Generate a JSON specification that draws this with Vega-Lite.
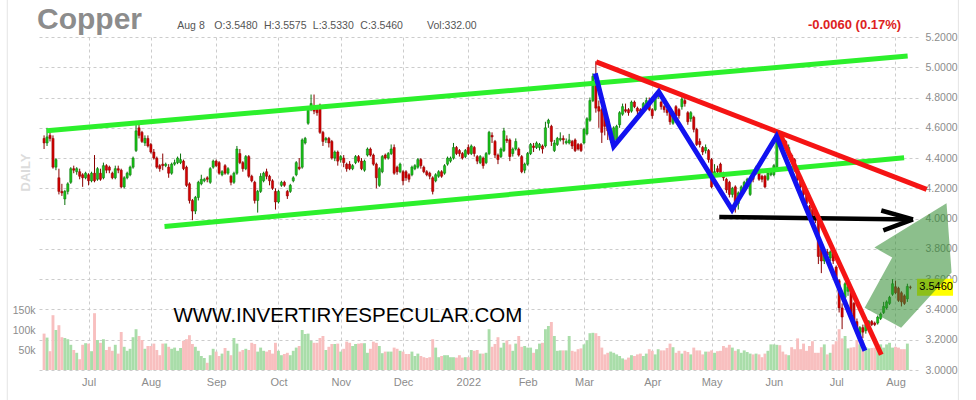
{
  "$schema": "https://vega.github.io/schema/vega-lite/v6.json",
  "width": 881,
  "height": 333,
  "autosize": "none",
  "padding": {"left": 37, "top": 37, "right": 58, "bottom": 30},
  "background": "white",
  "config": {
    "view": {"stroke": null},
    "font": "Liberation Sans",
    "axisRight": {"tickCount": 12, "format": ".4f", "labelOverlap": false, "labelFlush": false, "labelFontSize": 10.5, "labelColor": "#8c8c8c", "labelPadding": 7, "ticks": false, "tickSize": 0, "domain": false, "grid": true, "gridColor": "#cccccc", "gridDash": [3, 3], "title": null}
  },
  "title": {"text": "Copper", "anchor": "start", "frame": "group", "fontSize": 30, "fontWeight": "bold", "color": "#8c8c8c", "offset": 2, "dy": 62, "baseline": "alphabetic"},
  "datasets": {
    "copper": [
      {"d":"2021-06-10","o":4.53,"h":4.55,"l":4.46,"c":4.50,"v":91000},
      {"d":"2021-06-11","o":4.50,"h":4.60,"l":4.48,"c":4.54,"v":81000},
      {"d":"2021-06-14","o":4.55,"h":4.57,"l":4.51,"c":4.53,"v":47000},
      {"d":"2021-06-15","o":4.53,"h":4.55,"l":4.33,"c":4.34,"v":137000},
      {"d":"2021-06-16","o":4.34,"h":4.40,"l":4.32,"c":4.39,"v":100000},
      {"d":"2021-06-17","o":4.27,"h":4.33,"l":4.16,"c":4.18,"v":112000},
      {"d":"2021-06-18","o":4.18,"h":4.23,"l":4.15,"c":4.17,"v":82000},
      {"d":"2021-06-21","o":4.13,"h":4.19,"l":4.09,"c":4.18,"v":80000},
      {"d":"2021-06-22","o":4.18,"h":4.24,"l":4.16,"c":4.23,"v":77000},
      {"d":"2021-06-23","o":4.24,"h":4.34,"l":4.23,"c":4.33,"v":63000},
      {"d":"2021-06-24","o":4.33,"h":4.35,"l":4.30,"c":4.32,"v":50000},
      {"d":"2021-06-25","o":4.31,"h":4.34,"l":4.29,"c":4.33,"v":43000},
      {"d":"2021-06-28","o":4.31,"h":4.33,"l":4.26,"c":4.28,"v":27000},
      {"d":"2021-06-29","o":4.29,"h":4.30,"l":4.21,"c":4.27,"v":63000},
      {"d":"2021-06-30","o":4.27,"h":4.31,"l":4.26,"c":4.30,"v":67000},
      {"d":"2021-07-01","o":4.29,"h":4.30,"l":4.22,"c":4.25,"v":66000},
      {"d":"2021-07-02","o":4.25,"h":4.31,"l":4.24,"c":4.30,"v":47000},
      {"d":"2021-07-06","o":4.30,"h":4.42,"l":4.24,"c":4.25,"v":142000},
      {"d":"2021-07-07","o":4.26,"h":4.34,"l":4.25,"c":4.33,"v":75000},
      {"d":"2021-07-08","o":4.30,"h":4.33,"l":4.25,"c":4.26,"v":68000},
      {"d":"2021-07-09","o":4.27,"h":4.37,"l":4.26,"c":4.35,"v":77000},
      {"d":"2021-07-12","o":4.35,"h":4.36,"l":4.30,"c":4.32,"v":50000},
      {"d":"2021-07-13","o":4.34,"h":4.35,"l":4.30,"c":4.32,"v":58000},
      {"d":"2021-07-14","o":4.30,"h":4.31,"l":4.26,"c":4.27,"v":48000},
      {"d":"2021-07-15","o":4.27,"h":4.35,"l":4.26,"c":4.33,"v":63000},
      {"d":"2021-07-16","o":4.33,"h":4.35,"l":4.30,"c":4.32,"v":41000},
      {"d":"2021-07-19","o":4.32,"h":4.33,"l":4.20,"c":4.21,"v":95000},
      {"d":"2021-07-20","o":4.21,"h":4.28,"l":4.20,"c":4.27,"v":58000},
      {"d":"2021-07-21","o":4.27,"h":4.31,"l":4.26,"c":4.30,"v":48000},
      {"d":"2021-07-22","o":4.29,"h":4.35,"l":4.28,"c":4.34,"v":53000},
      {"d":"2021-07-23","o":4.34,"h":4.41,"l":4.33,"c":4.40,"v":82000},
      {"d":"2021-07-26","o":4.45,"h":4.62,"l":4.44,"c":4.58,"v":102000},
      {"d":"2021-07-27","o":4.60,"h":4.62,"l":4.53,"c":4.55,"v":85000},
      {"d":"2021-07-28","o":4.57,"h":4.58,"l":4.50,"c":4.51,"v":75000},
      {"d":"2021-07-29","o":4.50,"h":4.55,"l":4.48,"c":4.53,"v":53000},
      {"d":"2021-07-30","o":4.53,"h":4.55,"l":4.47,"c":4.48,"v":60000},
      {"d":"2021-08-02","o":4.49,"h":4.50,"l":4.43,"c":4.44,"v":60000},
      {"d":"2021-08-03","o":4.44,"h":4.46,"l":4.39,"c":4.40,"v":66000},
      {"d":"2021-08-04","o":4.40,"h":4.41,"l":4.33,"c":4.34,"v":50000},
      {"d":"2021-08-05","o":4.35,"h":4.36,"l":4.31,"c":4.33,"v":37000},
      {"d":"2021-08-06","o":4.36,"h":4.43,"l":4.32,"c":4.35,"v":66000},
      {"d":"2021-08-09","o":4.35,"h":4.37,"l":4.34,"c":4.36,"v":66000},
      {"d":"2021-08-10","o":4.34,"h":4.36,"l":4.27,"c":4.30,"v":58000},
      {"d":"2021-08-11","o":4.30,"h":4.37,"l":4.29,"c":4.36,"v":53000},
      {"d":"2021-08-12","o":4.36,"h":4.39,"l":4.35,"c":4.37,"v":56000},
      {"d":"2021-08-13","o":4.37,"h":4.41,"l":4.36,"c":4.40,"v":48000},
      {"d":"2021-08-16","o":4.37,"h":4.43,"l":4.36,"c":4.39,"v":55000},
      {"d":"2021-08-17","o":4.38,"h":4.39,"l":4.32,"c":4.33,"v":73000},
      {"d":"2021-08-18","o":4.34,"h":4.35,"l":4.21,"c":4.22,"v":77000},
      {"d":"2021-08-19","o":4.23,"h":4.24,"l":4.10,"c":4.12,"v":87000},
      {"d":"2021-08-20","o":4.12,"h":4.13,"l":3.99,"c":4.05,"v":65000},
      {"d":"2021-08-23","o":4.05,"h":4.15,"l":4.03,"c":4.14,"v":58000},
      {"d":"2021-08-24","o":4.14,"h":4.25,"l":4.12,"c":4.24,"v":48000},
      {"d":"2021-08-25","o":4.23,"h":4.29,"l":4.22,"c":4.26,"v":35000},
      {"d":"2021-08-26","o":4.25,"h":4.27,"l":4.24,"c":4.26,"v":30000},
      {"d":"2021-08-27","o":4.27,"h":4.28,"l":4.24,"c":4.26,"v":18000},
      {"d":"2021-08-30","o":4.24,"h":4.34,"l":4.23,"c":4.33,"v":37000},
      {"d":"2021-08-31","o":4.34,"h":4.39,"l":4.33,"c":4.38,"v":53000},
      {"d":"2021-09-01","o":4.38,"h":4.39,"l":4.34,"c":4.35,"v":46000},
      {"d":"2021-09-02","o":4.37,"h":4.38,"l":4.29,"c":4.30,"v":35000},
      {"d":"2021-09-03","o":4.29,"h":4.32,"l":4.28,"c":4.31,"v":41000},
      {"d":"2021-09-07","o":4.35,"h":4.36,"l":4.29,"c":4.30,"v":55000},
      {"d":"2021-09-08","o":4.30,"h":4.34,"l":4.29,"c":4.33,"v":48000},
      {"d":"2021-09-09","o":4.28,"h":4.29,"l":4.22,"c":4.24,"v":37000},
      {"d":"2021-09-10","o":4.24,"h":4.31,"l":4.23,"c":4.30,"v":80000},
      {"d":"2021-09-13","o":4.30,"h":4.48,"l":4.29,"c":4.46,"v":66000},
      {"d":"2021-09-14","o":4.43,"h":4.46,"l":4.36,"c":4.37,"v":46000},
      {"d":"2021-09-15","o":4.37,"h":4.38,"l":4.31,"c":4.33,"v":50000},
      {"d":"2021-09-16","o":4.33,"h":4.42,"l":4.32,"c":4.41,"v":53000},
      {"d":"2021-09-17","o":4.41,"h":4.42,"l":4.27,"c":4.28,"v":50000},
      {"d":"2021-09-20","o":4.28,"h":4.29,"l":4.24,"c":4.25,"v":68000},
      {"d":"2021-09-21","o":4.24,"h":4.25,"l":4.10,"c":4.12,"v":65000},
      {"d":"2021-09-22","o":4.12,"h":4.19,"l":4.04,"c":4.18,"v":46000},
      {"d":"2021-09-23","o":4.18,"h":4.30,"l":4.17,"c":4.28,"v":56000},
      {"d":"2021-09-24","o":4.25,"h":4.31,"l":4.24,"c":4.30,"v":48000},
      {"d":"2021-09-27","o":4.31,"h":4.33,"l":4.26,"c":4.28,"v":46000},
      {"d":"2021-09-28","o":4.28,"h":4.29,"l":4.22,"c":4.25,"v":50000},
      {"d":"2021-09-29","o":4.25,"h":4.26,"l":4.19,"c":4.20,"v":41000},
      {"d":"2021-09-30","o":4.18,"h":4.20,"l":4.06,"c":4.11,"v":68000},
      {"d":"2021-10-01","o":4.11,"h":4.19,"l":4.10,"c":4.18,"v":48000},
      {"d":"2021-10-04","o":4.22,"h":4.25,"l":4.21,"c":4.24,"v":37000},
      {"d":"2021-10-05","o":4.24,"h":4.25,"l":4.21,"c":4.22,"v":40000},
      {"d":"2021-10-06","o":4.18,"h":4.19,"l":4.13,"c":4.15,"v":43000},
      {"d":"2021-10-07","o":4.18,"h":4.23,"l":4.17,"c":4.22,"v":37000},
      {"d":"2021-10-08","o":4.25,"h":4.28,"l":4.24,"c":4.27,"v":48000},
      {"d":"2021-10-11","o":4.29,"h":4.38,"l":4.28,"c":4.37,"v":56000},
      {"d":"2021-10-12","o":4.34,"h":4.40,"l":4.32,"c":4.33,"v":60000},
      {"d":"2021-10-13","o":4.34,"h":4.53,"l":4.33,"c":4.52,"v":100000},
      {"d":"2021-10-14","o":4.50,"h":4.54,"l":4.49,"c":4.53,"v":90000},
      {"d":"2021-10-15","o":4.63,"h":4.73,"l":4.62,"c":4.72,"v":91000},
      {"d":"2021-10-18","o":4.72,"h":4.82,"l":4.71,"c":4.76,"v":73000},
      {"d":"2021-10-19","o":4.74,"h":4.82,"l":4.69,"c":4.71,"v":68000},
      {"d":"2021-10-20","o":4.72,"h":4.74,"l":4.68,"c":4.70,"v":68000},
      {"d":"2021-10-21","o":4.75,"h":4.76,"l":4.56,"c":4.57,"v":80000},
      {"d":"2021-10-22","o":4.57,"h":4.58,"l":4.48,"c":4.51,"v":85000},
      {"d":"2021-10-25","o":4.52,"h":4.54,"l":4.50,"c":4.53,"v":50000},
      {"d":"2021-10-26","o":4.53,"h":4.54,"l":4.47,"c":4.50,"v":58000},
      {"d":"2021-10-27","o":4.51,"h":4.52,"l":4.39,"c":4.40,"v":65000},
      {"d":"2021-10-28","o":4.40,"h":4.45,"l":4.38,"c":4.44,"v":65000},
      {"d":"2021-10-29","o":4.44,"h":4.45,"l":4.35,"c":4.38,"v":66000},
      {"d":"2021-11-01","o":4.39,"h":4.42,"l":4.37,"c":4.41,"v":46000},
      {"d":"2021-11-02","o":4.40,"h":4.42,"l":4.34,"c":4.37,"v":53000},
      {"d":"2021-11-03","o":4.36,"h":4.37,"l":4.31,"c":4.33,"v":71000},
      {"d":"2021-11-04","o":4.36,"h":4.38,"l":4.32,"c":4.33,"v":68000},
      {"d":"2021-11-05","o":4.33,"h":4.36,"l":4.32,"c":4.35,"v":60000},
      {"d":"2021-11-08","o":4.37,"h":4.42,"l":4.36,"c":4.41,"v":65000},
      {"d":"2021-11-09","o":4.41,"h":4.42,"l":4.37,"c":4.38,"v":66000},
      {"d":"2021-11-10","o":4.38,"h":4.40,"l":4.32,"c":4.33,"v":67000},
      {"d":"2021-11-11","o":4.32,"h":4.39,"l":4.31,"c":4.38,"v":67000},
      {"d":"2021-11-12","o":4.42,"h":4.47,"l":4.41,"c":4.46,"v":43000},
      {"d":"2021-11-15","o":4.46,"h":4.47,"l":4.41,"c":4.42,"v":53000},
      {"d":"2021-11-16","o":4.42,"h":4.43,"l":4.35,"c":4.36,"v":71000},
      {"d":"2021-11-17","o":4.36,"h":4.37,"l":4.20,"c":4.27,"v":68000},
      {"d":"2021-11-18","o":4.22,"h":4.34,"l":4.21,"c":4.33,"v":60000},
      {"d":"2021-11-19","o":4.31,"h":4.42,"l":4.30,"c":4.41,"v":42000},
      {"d":"2021-11-22","o":4.42,"h":4.43,"l":4.39,"c":4.40,"v":46000},
      {"d":"2021-11-23","o":4.40,"h":4.44,"l":4.39,"c":4.43,"v":46000},
      {"d":"2021-11-24","o":4.43,"h":4.49,"l":4.42,"c":4.46,"v":46000},
      {"d":"2021-11-26","o":4.47,"h":4.49,"l":4.29,"c":4.30,"v":56000},
      {"d":"2021-11-29","o":4.34,"h":4.35,"l":4.29,"c":4.31,"v":53000},
      {"d":"2021-11-30","o":4.31,"h":4.37,"l":4.30,"c":4.36,"v":48000},
      {"d":"2021-12-01","o":4.31,"h":4.32,"l":4.22,"c":4.25,"v":46000},
      {"d":"2021-12-02","o":4.31,"h":4.32,"l":4.25,"c":4.27,"v":40000},
      {"d":"2021-12-03","o":4.29,"h":4.30,"l":4.24,"c":4.26,"v":40000},
      {"d":"2021-12-06","o":4.29,"h":4.35,"l":4.28,"c":4.34,"v":46000},
      {"d":"2021-12-07","o":4.33,"h":4.36,"l":4.32,"c":4.35,"v":35000},
      {"d":"2021-12-08","o":4.34,"h":4.40,"l":4.33,"c":4.39,"v":41000},
      {"d":"2021-12-09","o":4.39,"h":4.40,"l":4.33,"c":4.35,"v":35000},
      {"d":"2021-12-10","o":4.34,"h":4.35,"l":4.30,"c":4.31,"v":32000},
      {"d":"2021-12-13","o":4.31,"h":4.32,"l":4.28,"c":4.29,"v":30000},
      {"d":"2021-12-14","o":4.30,"h":4.31,"l":4.26,"c":4.28,"v":32000},
      {"d":"2021-12-15","o":4.27,"h":4.28,"l":4.16,"c":4.18,"v":77000},
      {"d":"2021-12-16","o":4.25,"h":4.30,"l":4.24,"c":4.29,"v":56000},
      {"d":"2021-12-17","o":4.28,"h":4.32,"l":4.27,"c":4.31,"v":32000},
      {"d":"2021-12-20","o":4.31,"h":4.32,"l":4.27,"c":4.28,"v":35000},
      {"d":"2021-12-21","o":4.30,"h":4.36,"l":4.29,"c":4.35,"v":37000},
      {"d":"2021-12-22","o":4.36,"h":4.41,"l":4.35,"c":4.40,"v":37000},
      {"d":"2021-12-23","o":4.38,"h":4.41,"l":4.37,"c":4.40,"v":32000},
      {"d":"2021-12-27","o":4.40,"h":4.50,"l":4.39,"c":4.47,"v":32000},
      {"d":"2021-12-28","o":4.47,"h":4.48,"l":4.42,"c":4.43,"v":31000},
      {"d":"2021-12-29","o":4.45,"h":4.46,"l":4.41,"c":4.43,"v":37000},
      {"d":"2021-12-30","o":4.43,"h":4.44,"l":4.39,"c":4.40,"v":31000},
      {"d":"2021-12-31","o":4.41,"h":4.46,"l":4.40,"c":4.45,"v":32000},
      {"d":"2022-01-03","o":4.47,"h":4.49,"l":4.42,"c":4.43,"v":32000},
      {"d":"2022-01-04","o":4.43,"h":4.49,"l":4.42,"c":4.48,"v":50000},
      {"d":"2022-01-05","o":4.47,"h":4.48,"l":4.41,"c":4.43,"v":48000},
      {"d":"2022-01-06","o":4.41,"h":4.42,"l":4.36,"c":4.38,"v":50000},
      {"d":"2022-01-07","o":4.37,"h":4.42,"l":4.36,"c":4.41,"v":41000},
      {"d":"2022-01-10","o":4.40,"h":4.41,"l":4.33,"c":4.35,"v":41000},
      {"d":"2022-01-11","o":4.37,"h":4.44,"l":4.36,"c":4.43,"v":43000},
      {"d":"2022-01-12","o":4.43,"h":4.58,"l":4.42,"c":4.57,"v":102000},
      {"d":"2022-01-13","o":4.55,"h":4.57,"l":4.50,"c":4.54,"v":58000},
      {"d":"2022-01-14","o":4.51,"h":4.52,"l":4.40,"c":4.42,"v":65000},
      {"d":"2022-01-18","o":4.42,"h":4.43,"l":4.36,"c":4.39,"v":82000},
      {"d":"2022-01-19","o":4.41,"h":4.47,"l":4.40,"c":4.46,"v":56000},
      {"d":"2022-01-20","o":4.45,"h":4.60,"l":4.44,"c":4.58,"v":68000},
      {"d":"2022-01-21","o":4.525,"h":4.55,"l":4.50,"c":4.515,"v":74000},
      {"d":"2022-01-24","o":4.52,"h":4.53,"l":4.38,"c":4.41,"v":64000},
      {"d":"2022-01-25","o":4.43,"h":4.47,"l":4.41,"c":4.46,"v":48000},
      {"d":"2022-01-26","o":4.46,"h":4.53,"l":4.45,"c":4.51,"v":66000},
      {"d":"2022-01-27","o":4.46,"h":4.47,"l":4.41,"c":4.42,"v":85000},
      {"d":"2022-01-28","o":4.41,"h":4.42,"l":4.30,"c":4.31,"v":58000},
      {"d":"2022-01-31","o":4.32,"h":4.37,"l":4.30,"c":4.36,"v":60000},
      {"d":"2022-02-01","o":4.36,"h":4.44,"l":4.35,"c":4.43,"v":56000},
      {"d":"2022-02-02","o":4.43,"h":4.50,"l":4.42,"c":4.49,"v":56000},
      {"d":"2022-02-03","o":4.48,"h":4.50,"l":4.44,"c":4.47,"v":43000},
      {"d":"2022-02-04","o":4.47,"h":4.51,"l":4.46,"c":4.50,"v":52000},
      {"d":"2022-02-07","o":4.47,"h":4.50,"l":4.45,"c":4.49,"v":66000},
      {"d":"2022-02-08","o":4.48,"h":4.49,"l":4.43,"c":4.46,"v":68000},
      {"d":"2022-02-09","o":4.48,"h":4.64,"l":4.47,"c":4.60,"v":102000},
      {"d":"2022-02-10","o":4.63,"h":4.66,"l":4.60,"c":4.65,"v":110000},
      {"d":"2022-02-11","o":4.61,"h":4.62,"l":4.48,"c":4.51,"v":120000},
      {"d":"2022-02-14","o":4.45,"h":4.52,"l":4.44,"c":4.50,"v":85000},
      {"d":"2022-02-15","o":4.49,"h":4.54,"l":4.48,"c":4.53,"v":48000},
      {"d":"2022-02-16","o":4.52,"h":4.57,"l":4.51,"c":4.53,"v":49000},
      {"d":"2022-02-17","o":4.53,"h":4.55,"l":4.49,"c":4.52,"v":49000},
      {"d":"2022-02-18","o":4.50,"h":4.53,"l":4.49,"c":4.51,"v":49000},
      {"d":"2022-02-22","o":4.50,"h":4.56,"l":4.49,"c":4.52,"v":85000},
      {"d":"2022-02-23","o":4.51,"h":4.52,"l":4.46,"c":4.48,"v":48000},
      {"d":"2022-02-24","o":4.52,"h":4.53,"l":4.44,"c":4.45,"v":46000},
      {"d":"2022-02-25","o":4.49,"h":4.50,"l":4.45,"c":4.46,"v":52000},
      {"d":"2022-02-28","o":4.49,"h":4.50,"l":4.44,"c":4.45,"v":54000},
      {"d":"2022-03-01","o":4.50,"h":4.60,"l":4.49,"c":4.59,"v":64000},
      {"d":"2022-03-02","o":4.56,"h":4.67,"l":4.55,"c":4.66,"v":74000},
      {"d":"2022-03-03","o":4.65,"h":4.80,"l":4.64,"c":4.78,"v":92000},
      {"d":"2022-03-04","o":4.78,"h":4.96,"l":4.77,"c":4.94,"v":93000},
      {"d":"2022-03-07","o":4.88,"h":5.04,"l":4.70,"c":4.73,"v":92000},
      {"d":"2022-03-08","o":4.74,"h":4.78,"l":4.60,"c":4.71,"v":85000},
      {"d":"2022-03-09","o":4.72,"h":4.73,"l":4.50,"c":4.57,"v":56000},
      {"d":"2022-03-10","o":4.69,"h":4.72,"l":4.55,"c":4.61,"v":39000},
      {"d":"2022-03-11","o":4.66,"h":4.67,"l":4.52,"c":4.58,"v":43000},
      {"d":"2022-03-14","o":4.52,"h":4.60,"l":4.50,"c":4.58,"v":46000},
      {"d":"2022-03-15","o":4.51,"h":4.61,"l":4.49,"c":4.60,"v":43000},
      {"d":"2022-03-16","o":4.52,"h":4.62,"l":4.51,"c":4.61,"v":39000},
      {"d":"2022-03-17","o":4.62,"h":4.71,"l":4.60,"c":4.70,"v":35000},
      {"d":"2022-03-18","o":4.69,"h":4.76,"l":4.68,"c":4.74,"v":29000},
      {"d":"2022-03-21","o":4.72,"h":4.76,"l":4.70,"c":4.71,"v":26000},
      {"d":"2022-03-22","o":4.72,"h":4.73,"l":4.68,"c":4.70,"v":31000},
      {"d":"2022-03-23","o":4.71,"h":4.78,"l":4.70,"c":4.77,"v":37000},
      {"d":"2022-03-24","o":4.77,"h":4.78,"l":4.73,"c":4.74,"v":35000},
      {"d":"2022-03-25","o":4.73,"h":4.74,"l":4.69,"c":4.71,"v":39000},
      {"d":"2022-03-28","o":4.72,"h":4.73,"l":4.67,"c":4.71,"v":41000},
      {"d":"2022-03-29","o":4.72,"h":4.77,"l":4.71,"c":4.76,"v":35000},
      {"d":"2022-03-30","o":4.76,"h":4.80,"l":4.75,"c":4.78,"v":41000},
      {"d":"2022-03-31","o":4.77,"h":4.80,"l":4.71,"c":4.72,"v":52000},
      {"d":"2022-04-01","o":4.72,"h":4.73,"l":4.66,"c":4.68,"v":48000},
      {"d":"2022-04-04","o":4.72,"h":4.82,"l":4.71,"c":4.81,"v":39000},
      {"d":"2022-04-05","o":4.81,"h":4.84,"l":4.79,"c":4.83,"v":52000},
      {"d":"2022-04-06","o":4.77,"h":4.78,"l":4.72,"c":4.74,"v":49000},
      {"d":"2022-04-07","o":4.74,"h":4.75,"l":4.70,"c":4.72,"v":49000},
      {"d":"2022-04-08","o":4.72,"h":4.73,"l":4.68,"c":4.70,"v":55000},
      {"d":"2022-04-11","o":4.70,"h":4.71,"l":4.62,"c":4.64,"v":66000},
      {"d":"2022-04-12","o":4.63,"h":4.69,"l":4.62,"c":4.68,"v":57000},
      {"d":"2022-04-13","o":4.74,"h":4.75,"l":4.67,"c":4.68,"v":43000},
      {"d":"2022-04-14","o":4.72,"h":4.73,"l":4.66,"c":4.68,"v":48000},
      {"d":"2022-04-18","o":4.74,"h":4.81,"l":4.72,"c":4.79,"v":41000},
      {"d":"2022-04-19","o":4.78,"h":4.80,"l":4.74,"c":4.76,"v":48000},
      {"d":"2022-04-20","o":4.70,"h":4.71,"l":4.62,"c":4.64,"v":45000},
      {"d":"2022-04-21","o":4.66,"h":4.71,"l":4.64,"c":4.70,"v":39000},
      {"d":"2022-04-22","o":4.67,"h":4.68,"l":4.57,"c":4.59,"v":56000},
      {"d":"2022-04-25","o":4.59,"h":4.60,"l":4.48,"c":4.49,"v":49000},
      {"d":"2022-04-26","o":4.51,"h":4.53,"l":4.47,"c":4.49,"v":49000},
      {"d":"2022-04-27","o":4.47,"h":4.48,"l":4.42,"c":4.44,"v":39000},
      {"d":"2022-04-28","o":4.45,"h":4.49,"l":4.43,"c":4.47,"v":46000},
      {"d":"2022-04-29","o":4.45,"h":4.46,"l":4.37,"c":4.39,"v":46000},
      {"d":"2022-05-02","o":4.39,"h":4.40,"l":4.20,"c":4.21,"v":49000},
      {"d":"2022-05-03","o":4.28,"h":4.36,"l":4.27,"c":4.31,"v":43000},
      {"d":"2022-05-04","o":4.33,"h":4.35,"l":4.29,"c":4.31,"v":47000},
      {"d":"2022-05-05","o":4.36,"h":4.37,"l":4.28,"c":4.30,"v":48000},
      {"d":"2022-05-06","o":4.30,"h":4.31,"l":4.25,"c":4.27,"v":60000},
      {"d":"2022-05-09","o":4.26,"h":4.27,"l":4.17,"c":4.19,"v":56000},
      {"d":"2022-05-10","o":4.24,"h":4.25,"l":4.14,"c":4.16,"v":63000},
      {"d":"2022-05-11","o":4.16,"h":4.21,"l":4.14,"c":4.20,"v":56000},
      {"d":"2022-05-12","o":4.21,"h":4.22,"l":4.04,"c":4.10,"v":48000},
      {"d":"2022-05-13","o":4.10,"h":4.18,"l":4.06,"c":4.17,"v":52000},
      {"d":"2022-05-16","o":4.16,"h":4.22,"l":4.14,"c":4.21,"v":43000},
      {"d":"2022-05-17","o":4.19,"h":4.25,"l":4.18,"c":4.24,"v":49000},
      {"d":"2022-05-18","o":4.23,"h":4.27,"l":4.21,"c":4.26,"v":45000},
      {"d":"2022-05-19","o":4.16,"h":4.25,"l":4.15,"c":4.24,"v":41000},
      {"d":"2022-05-20","o":4.30,"h":4.31,"l":4.24,"c":4.26,"v":39000},
      {"d":"2022-05-23","o":4.30,"h":4.35,"l":4.29,"c":4.34,"v":41000},
      {"d":"2022-05-24","o":4.31,"h":4.32,"l":4.25,"c":4.26,"v":39000},
      {"d":"2022-05-25","o":4.28,"h":4.29,"l":4.24,"c":4.26,"v":32000},
      {"d":"2022-05-26","o":4.28,"h":4.29,"l":4.20,"c":4.21,"v":41000},
      {"d":"2022-05-27","o":4.26,"h":4.31,"l":4.25,"c":4.30,"v":48000},
      {"d":"2022-05-31","o":4.29,"h":4.33,"l":4.28,"c":4.32,"v":64000},
      {"d":"2022-06-01","o":4.29,"h":4.36,"l":4.28,"c":4.35,"v":64000},
      {"d":"2022-06-02","o":4.32,"h":4.57,"l":4.31,"c":4.56,"v":63000},
      {"d":"2022-06-03","o":4.55,"h":4.57,"l":4.49,"c":4.50,"v":62000},
      {"d":"2022-06-06","o":4.54,"h":4.56,"l":4.51,"c":4.53,"v":46000},
      {"d":"2022-06-07","o":4.51,"h":4.52,"l":4.46,"c":4.48,"v":39000},
      {"d":"2022-06-08","o":4.42,"h":4.49,"l":4.41,"c":4.47,"v":37000},
      {"d":"2022-06-09","o":4.42,"h":4.43,"l":4.36,"c":4.38,"v":57000},
      {"d":"2022-06-10","o":4.39,"h":4.40,"l":4.31,"c":4.32,"v":52000},
      {"d":"2022-06-13","o":4.32,"h":4.33,"l":4.25,"c":4.26,"v":79000},
      {"d":"2022-06-14","o":4.28,"h":4.29,"l":4.20,"c":4.21,"v":52000},
      {"d":"2022-06-15","o":4.21,"h":4.22,"l":4.14,"c":4.16,"v":66000},
      {"d":"2022-06-16","o":4.16,"h":4.17,"l":4.08,"c":4.10,"v":48000},
      {"d":"2022-06-17","o":4.08,"h":4.09,"l":4.02,"c":4.04,"v":60000},
      {"d":"2022-06-21","o":4.06,"h":4.07,"l":4.00,"c":4.02,"v":72000},
      {"d":"2022-06-22","o":4.04,"h":4.05,"l":3.97,"c":3.99,"v":43000},
      {"d":"2022-06-23","o":3.99,"h":4.00,"l":3.70,"c":3.75,"v":43000},
      {"d":"2022-06-24","o":3.80,"h":3.82,"l":3.64,"c":3.72,"v":57000},
      {"d":"2022-06-27","o":3.72,"h":3.80,"l":3.70,"c":3.78,"v":64000},
      {"d":"2022-06-28","o":3.78,"h":3.80,"l":3.74,"c":3.76,"v":39000},
      {"d":"2022-06-29","o":3.74,"h":3.79,"l":3.72,"c":3.78,"v":43000},
      {"d":"2022-06-30","o":3.77,"h":3.78,"l":3.70,"c":3.72,"v":64000},
      {"d":"2022-07-01","o":3.68,"h":3.69,"l":3.58,"c":3.60,"v":72000},
      {"d":"2022-07-05","o":3.59,"h":3.60,"l":3.38,"c":3.41,"v":102000},
      {"d":"2022-07-06","o":3.41,"h":3.44,"l":3.27,"c":3.35,"v":79000},
      {"d":"2022-07-07","o":3.48,"h":3.58,"l":3.46,"c":3.57,"v":85000},
      {"d":"2022-07-08","o":3.52,"h":3.56,"l":3.49,"c":3.55,"v":54000},
      {"d":"2022-07-11","o":3.53,"h":3.55,"l":3.35,"c":3.37,"v":56000},
      {"d":"2022-07-12","o":3.44,"h":3.45,"l":3.28,"c":3.30,"v":57000},
      {"d":"2022-07-13","o":3.32,"h":3.34,"l":3.23,"c":3.25,"v":74000},
      {"d":"2022-07-14","o":3.23,"h":3.29,"l":3.20,"c":3.28,"v":64000},
      {"d":"2022-07-15","o":3.28,"h":3.30,"l":3.21,"c":3.25,"v":52000},
      {"d":"2022-07-18","o":3.26,"h":3.31,"l":3.24,"c":3.30,"v":57000},
      {"d":"2022-07-19","o":3.29,"h":3.33,"l":3.28,"c":3.32,"v":54000},
      {"d":"2022-07-20","o":3.32,"h":3.33,"l":3.29,"c":3.30,"v":55000},
      {"d":"2022-07-21","o":3.31,"h":3.32,"l":3.29,"c":3.30,"v":56000},
      {"d":"2022-07-22","o":3.31,"h":3.36,"l":3.30,"c":3.35,"v":57000},
      {"d":"2022-07-25","o":3.34,"h":3.38,"l":3.33,"c":3.37,"v":64000},
      {"d":"2022-07-26","o":3.38,"h":3.45,"l":3.37,"c":3.42,"v":56000},
      {"d":"2022-07-27","o":3.41,"h":3.46,"l":3.40,"c":3.45,"v":64000},
      {"d":"2022-07-28","o":3.44,"h":3.49,"l":3.43,"c":3.48,"v":68000},
      {"d":"2022-07-29","o":3.50,"h":3.60,"l":3.49,"c":3.57,"v":56000},
      {"d":"2022-08-01","o":3.55,"h":3.59,"l":3.50,"c":3.51,"v":58000},
      {"d":"2022-08-02","o":3.54,"h":3.55,"l":3.45,"c":3.46,"v":56000},
      {"d":"2022-08-03","o":3.51,"h":3.52,"l":3.42,"c":3.45,"v":52000},
      {"d":"2022-08-04","o":3.49,"h":3.50,"l":3.43,"c":3.44,"v":52000},
      {"d":"2022-08-05","o":3.47,"h":3.57,"l":3.45,"c":3.552,"v":66000},
      {"d":"2022-08-08","o":3.548,"h":3.5575,"l":3.533,"c":3.546,"v":332}
    ],
    "lines": [
      {"kind":"channel","id":"upper","t":1.9,"p":4.581},
      {"kind":"channel","id":"upper","t":292.1,"p":5.074},
      {"kind":"channel","id":"lower","t":41.6,"p":3.948},
      {"kind":"channel","id":"lower","t":290.9,"p":4.402},
      {"kind":"target","id":"level","t":228.6,"p":4.011},
      {"kind":"target","id":"level","t":293.9,"p":3.995},
      {"kind":"target","id":"head_up","t":283.2,"p":4.054},
      {"kind":"target","id":"head_up","t":293.9,"p":3.995},
      {"kind":"target","id":"head_dn","t":283.9,"p":3.922},
      {"kind":"target","id":"head_dn","t":293.9,"p":3.995},
      {"kind":"trend","id":"long","t":187.1,"p":5.036},
      {"kind":"trend","id":"long","t":298.5,"p":4.193},
      {"kind":"trend","id":"short","t":249.0,"p":4.562},
      {"kind":"trend","id":"short","t":283.2,"p":3.101},
      {"kind":"swing","id":"zigzag","t":186.8,"p":4.96},
      {"kind":"swing","id":"zigzag","t":193.0,"p":4.478},
      {"kind":"swing","id":"zigzag","t":208.2,"p":4.838},
      {"kind":"swing","id":"zigzag","t":232.9,"p":4.059},
      {"kind":"swing","id":"zigzag","t":247.9,"p":4.544},
      {"kind":"swing","id":"zigzag","t":277.7,"p":3.127}
    ],
    "arrow": [
      {"k":1,"t":277.6,"p":3.412},
      {"k":2,"t":286.9,"p":3.743},
      {"k":3,"t":280.9,"p":3.809},
      {"k":4,"t":305.2,"p":4.101},
      {"k":5,"t":306.9,"p":3.644},
      {"k":6,"t":289.9,"p":3.279}
    ],
    "header": [
      {"t":45.9,"p":5.25,"label":"Aug 8"},
      {"t":58.4,"p":5.25,"label":"O:3.5480"},
      {"t":75.1,"p":5.25,"label":"H:3.5575"},
      {"t":91.6,"p":5.25,"label":"L:3.5330"},
      {"t":107.6,"p":5.25,"label":"C:3.5460"},
      {"t":130.1,"p":5.25,"label":"Vol:332.00"}
    ]
  },
  "encoding": {
    "x": {
      "field": "t",
      "type": "quantitative",
      "scale": {"domain": [0.3, 293.9], "nice": false, "zero": false},
      "axis": {
        "title": null,
        "values": [16, 37, 59, 80, 101, 122, 144, 164, 183, 206, 226, 247, 268, 288],
        "labelExpr": "['Jul','Aug','Sep','Oct','Nov','Dec','2022','Feb','Mar','Apr','May','Jun','Jul','Aug'][indexof([16,37,59,80,101,122,144,164,183,206,226,247,268,288], datum.value)]",
        "grid": true, "gridColor": "#cccccc", "gridDash": [3, 3],
        "ticks": false, "tickSize": 0, "domain": false,
        "labelColor": "#8c8c8c", "labelFontSize": 11, "labelPadding": 6,
        "labelFlush": false, "labelOverlap": false
      }
    }
  },
  "layer": [
    {
      "data": {"name": "copper"},
      "transform": [{"window": [{"op": "row_number", "as": "t"}], "sort": [{"field": "d"}]}],
      "mark": {"type": "bar", "width": 2.9, "orient": "vertical"},
      "encoding": {
        "y": {
          "field": "v", "type": "quantitative",
          "scale": {"domain": [0, 832500], "nice": false},
          "axis": {
            "orient": "left", "values": [50000, 100000, 150000], "format": "~s",
            "grid": false, "ticks": false, "tickSize": 0, "domain": false,
            "labelColor": "#8c8c8c", "labelFontSize": 10.5, "labelPadding": 2,
            "title": "DAILY", "titleColor": "#dcdcdc", "titleFontSize": 13, "titleFontWeight": "bold",
            "titleAngle": -90, "titleX": -11.7, "titleY": 135, "titleAlign": "center", "titleBaseline": "middle"
          }
        },
        "color": {"condition": {"test": "datum.c >= datum.o", "value": "#a9dda9"}, "value": "#f8bfbf"}
      }
    },
    {
      "layer": [
        {
          "data": {"name": "copper"},
          "transform": [{"window": [{"op": "row_number", "as": "t"}], "sort": [{"field": "d"}]}],
          "mark": {"type": "rule", "strokeWidth": 1},
          "encoding": {
            "y": {
              "field": "l", "type": "quantitative",
              "scale": {"domain": [3, 5.2], "nice": false, "zero": false},
              "axis": {
                "orient": "right", "title": null,
                "values": [3, 3.2, 3.4, 3.6, 3.8, 4, 4.2, 4.4, 4.6, 4.8, 5, 5.2],
                "tickCount": 12,
                "format": ".4f", "grid": true, "gridColor": "#cccccc", "gridDash": [3, 3],
                "ticks": false, "tickSize": 0, "domain": false,
                "labelColor": "#8c8c8c", "labelFontSize": 10.5, "labelPadding": 7,
                "labelFlush": false, "labelOverlap": false
              }
            },
            "y2": {"field": "h"},
            "color": {"condition": {"test": "datum.c >= datum.o", "value": "#0a700a"}, "value": "#8a0000"}
          }
        },
        {
          "data": {"name": "copper"},
          "transform": [{"window": [{"op": "row_number", "as": "t"}], "sort": [{"field": "d"}]}],
          "mark": {"type": "bar", "width": 2.2, "orient": "vertical", "strokeWidth": 0.5},
          "encoding": {
            "y": {"field": "o", "type": "quantitative", "scale": {"domain": [3, 5.2], "nice": false, "zero": false}},
            "y2": {"field": "c"},
            "fill": {"condition": {"test": "datum.c >= datum.o", "value": "#18c418"}, "value": "#d40000"},
            "stroke": {"condition": {"test": "datum.c >= datum.o", "value": "#0a700a"}, "value": "#8a0000"}
          }
        },
        {
          "data": {"values": [{"t": -11.4}, {"t": 309.2}]},
          "mark": {"type": "rule", "color": "#e4e4e4", "strokeWidth": 1},
          "encoding": {
            "y": {"datum": 5.445, "type": "quantitative", "scale": {"domain": [3, 5.2], "nice": false, "zero": false}},
            "y2": {"datum": 2.796}
          }
        },
        {
          "data": {"name": "lines"},
          "transform": [{"filter": "datum.kind == 'channel'"}],
          "mark": {"type": "line", "color": "#2cf02c", "strokeWidth": 5},
          "encoding": {
            "y": {"field": "p", "type": "quantitative", "scale": {"domain": [3, 5.2], "nice": false, "zero": false}},
            "detail": {"field": "id"}
          }
        },
        {
          "data": {"name": "lines"},
          "transform": [{"filter": "datum.kind == 'target'"}],
          "mark": {"type": "line", "color": "#000000", "strokeWidth": 4.5},
          "encoding": {
            "y": {"field": "p", "type": "quantitative", "scale": {"domain": [3, 5.2], "nice": false, "zero": false}},
            "detail": {"field": "id"}
          }
        },
        {
          "data": {"name": "lines"},
          "transform": [{"filter": "datum.kind == 'trend'"}],
          "mark": {"type": "line", "color": "#f51414", "strokeWidth": 5},
          "encoding": {
            "y": {"field": "p", "type": "quantitative", "scale": {"domain": [3, 5.2], "nice": false, "zero": false}},
            "detail": {"field": "id"}
          }
        },
        {
          "data": {"name": "lines"},
          "transform": [{"filter": "datum.kind == 'swing'"}],
          "mark": {"type": "line", "color": "#1212f0", "strokeWidth": 5},
          "encoding": {
            "y": {"field": "p", "type": "quantitative", "scale": {"domain": [3, 5.2], "nice": false, "zero": false}},
            "detail": {"field": "id"}
          }
        },
        {
          "data": {"name": "copper"},
          "transform": [
            {"window": [{"op": "row_number", "as": "t"}], "sort": [{"field": "d"}]},
            {"filter": "datum.d == '2022-08-08'"}
          ],
          "mark": {"type": "point", "shape": "M0.67,-0.85H4.27V0.85H0.67Z", "size": 400, "filled": true, "color": "#ffff00", "opacity": 1},
          "encoding": {
            "y": {"field": "c", "type": "quantitative", "scale": {"domain": [3, 5.2], "nice": false, "zero": false}}
          }
        },
        {
          "data": {"name": "arrow"},
          "mark": {"type": "line", "interpolate": "linear-closed", "fill": "#2e8b2e", "fillOpacity": 0.55, "strokeWidth": 0},
          "encoding": {
            "y": {"field": "p", "type": "quantitative", "scale": {"domain": [3, 5.2], "nice": false, "zero": false}},
            "order": {"field": "k", "type": "quantitative"}
          }
        },
        {
          "data": {"name": "copper"},
          "transform": [
            {"window": [{"op": "row_number", "as": "t"}], "sort": [{"field": "d"}]},
            {"filter": "datum.d == '2022-08-08'"}
          ],
          "mark": {"type": "text", "align": "left", "baseline": "middle", "dx": 9, "fontSize": 11, "color": "#000000"},
          "encoding": {
            "y": {"field": "c", "type": "quantitative", "scale": {"domain": [3, 5.2], "nice": false, "zero": false}},
            "text": {"field": "c", "type": "quantitative", "format": ".4f"}
          }
        },
        {
          "data": {"name": "header"},
          "mark": {"type": "text", "align": "left", "baseline": "alphabetic", "fontSize": 10.5, "color": "#555555"},
          "encoding": {
            "y": {"field": "p", "type": "quantitative", "scale": {"domain": [3, 5.2], "nice": false, "zero": false}},
            "text": {"field": "label"}
          }
        },
        {
          "data": {"values": [{"t": 289.9, "p": 5.25, "label": "-0.0060 (0.17%)"}]},
          "mark": {"type": "text", "align": "right", "baseline": "alphabetic", "fontSize": 13, "fontWeight": "bold", "color": "#dd2222"},
          "encoding": {
            "y": {"field": "p", "type": "quantitative", "scale": {"domain": [3, 5.2], "nice": false, "zero": false}},
            "text": {"field": "label"}
          }
        },
        {
          "data": {"values": [{"t": 44.6, "p": 3.319, "label": "WWW.INVERTIRYESPECULAR.COM"}]},
          "mark": {"type": "text", "align": "left", "baseline": "alphabetic", "fontSize": 20.5, "color": "#000000"},
          "encoding": {
            "y": {"field": "p", "type": "quantitative", "scale": {"domain": [3, 5.2], "nice": false, "zero": false}},
            "text": {"field": "label"}
          }
        }
      ]
    }
  ],
  "resolve": {"scale": {"y": "independent"}, "axis": {"y": "independent"}}
}
